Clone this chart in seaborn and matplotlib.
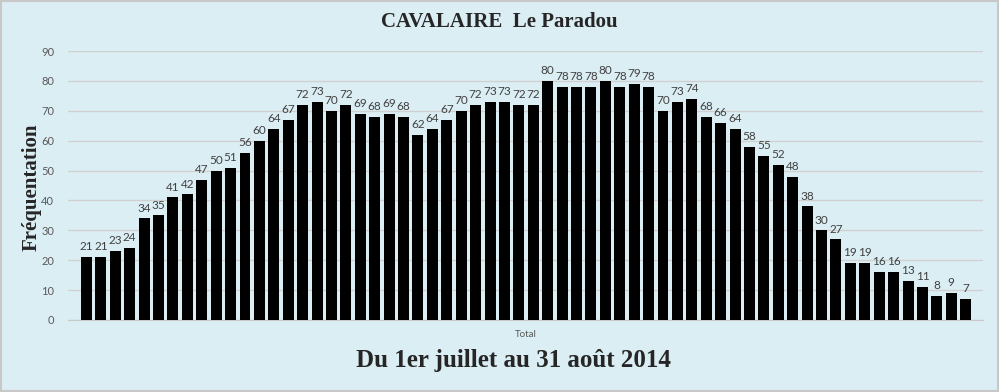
import pandas as pd
import seaborn as sns
import matplotlib.pyplot as plt
from matplotlib.patches import Rectangle

# daily attendance, 1 July -> 31 August 2014
jours = list(range(1, 63))
frequentation = [21, 21, 23, 24, 34, 35, 41, 42, 47, 50, 51, 56, 60, 64, 67, 72,
                 73, 70, 72, 69, 68, 69, 68, 62, 64, 67, 70, 72, 73, 73, 72, 72,
                 80, 78, 78, 78, 80, 78, 79, 78, 70, 73, 74, 68, 66, 64, 58, 55,
                 52, 48, 38, 30, 27, 19, 19, 16, 16, 13, 11, 8, 9, 7]
yticks = [0, 10, 20, 30, 40, 50, 60, 70, 80, 90]

df = pd.DataFrame({'jour': jours, 'valeur': frequentation})

bg = '#DBEEF4'
sns.set_style('white')
plt.rcParams['font.family'] = ['Lato', 'DejaVu Sans']

fig = plt.figure(figsize=(9.99, 3.92), dpi=100, facecolor=bg)
ax = fig.add_axes([68 / 999, 1 - 320 / 392, (983 - 68) / 999, (320 - 51) / 392])
ax.set_facecolor(bg)

sns.barplot(data=df, x='jour', y='valeur', color='black', width=0.76,
            saturation=1, linewidth=0, ax=ax, zorder=3)

# value labels
for i, v in enumerate(frequentation):
    ax.text(i, v + 1.6, str(v), ha='center', va='bottom', fontsize=8.5,
            color='#404040', zorder=4)

ax.set_ylim(0, 90)
ax.set_xlim(-1.28, 62.2)
ax.set_yticks(yticks)
ax.set_yticklabels([str(t) for t in yticks], fontsize=8, color='#595959')
ax.yaxis.grid(True, color='#D0D0D0', linewidth=1, zorder=0)
ax.tick_params(axis='y', length=0, pad=10)

# single category "Total"
ax.set_xticks([30.46])
ax.set_xticklabels(['Total'], fontsize=7, color='#595959')
ax.tick_params(axis='x', length=4, color='#C8C8C8', pad=3)

for s in ['top', 'right', 'left']:
    ax.spines[s].set_visible(False)
ax.spines['bottom'].set_color('#C8C8C8')
ax.set_xlabel('')
ax.set_ylabel('')

serif = ['Liberation Serif', 'DejaVu Serif']
fig.text(0.5, 1 - 22 / 392, 'CAVALAIRE  Le Paradou', ha='center', va='center',
         fontsize=15, fontweight='bold', family=serif)
fig.text(32 / 999, 1 - 187 / 392, 'Fréquentation', ha='center', va='center',
         rotation=90, fontsize=15, fontweight='bold', family=serif)
fig.text(514 / 999, 1 - 360 / 392, 'Du 1er juillet au 31 août 2014', ha='center',
         va='center', fontsize=18, fontweight='bold', family=serif)

# thin outer border
fig.patches.append(Rectangle((0.001, 0.002), 0.998, 0.996, transform=fig.transFigure,
                             fill=False, edgecolor='#C8C8C8', linewidth=1.5))

fig.savefig('out.png', dpi=100, facecolor=bg)
